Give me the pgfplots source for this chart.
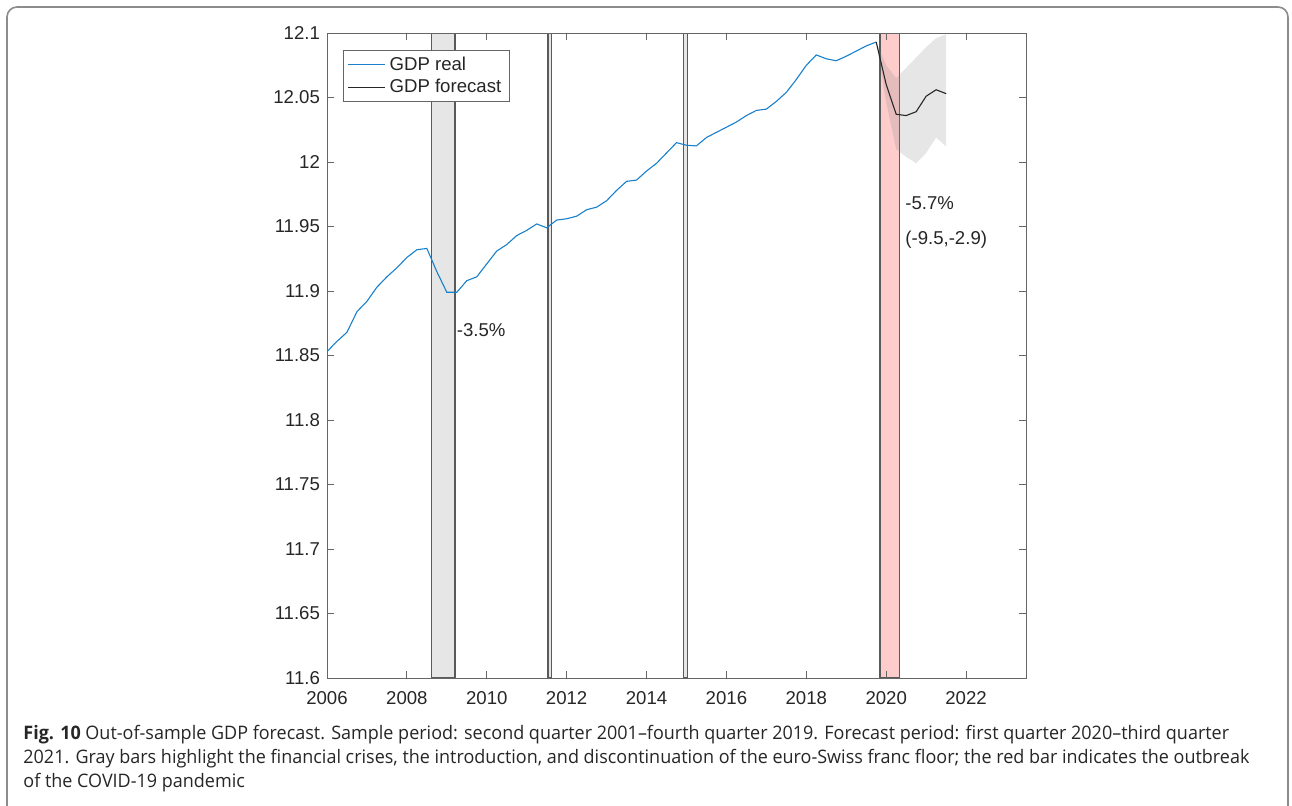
\documentclass[border=0pt]{standalone}
\usepackage{fontspec}
\setmainfont{Liberation Sans}
\newfontfamily\capfont[FakeStretch=0.967]{Open Sans}
\usepackage{pgfplots}
\pgfplotsset{compat=1.18}

\definecolor{mblue}{rgb}{0.1,0.5,0.8}
\definecolor{txt}{HTML}{262626}
\definecolor{edge}{HTML}{5A5A5A}
\definecolor{barfill}{HTML}{E6E6E6}
\definecolor{redfill}{HTML}{FFCCCC}

\pgfplotstableread{
x y
2006.00 11.853
2006.25 11.861
2006.50 11.868
2006.75 11.884
2007.00 11.892
2007.25 11.903
2007.50 11.911
2007.75 11.918
2008.00 11.926
2008.25 11.932
2008.50 11.933
2008.75 11.915
2009.00 11.899
2009.25 11.899
2009.50 11.908
2009.75 11.911
2010.00 11.921
2010.25 11.931
2010.50 11.936
2010.75 11.943
2011.00 11.947
2011.25 11.952
2011.50 11.949
2011.75 11.955
2012.00 11.956
2012.25 11.958
2012.50 11.963
2012.75 11.965
2013.00 11.970
2013.25 11.978
2013.50 11.985
2013.75 11.986
2014.00 11.993
2014.25 11.999
2014.50 12.007
2014.75 12.015
2015.00 12.013
2015.25 12.0125
2015.50 12.019
2015.75 12.023
2016.00 12.027
2016.25 12.031
2016.50 12.036
2016.75 12.040
2017.00 12.041
2017.25 12.047
2017.50 12.054
2017.75 12.064
2018.00 12.075
2018.25 12.083
2018.50 12.080
2018.75 12.0785
2019.00 12.082
2019.25 12.086
2019.50 12.090
2019.75 12.093
}\real

\pgfplotstableread{
x y
2019.75 12.093
2020.00 12.060
2020.25 12.037
2020.50 12.036
2020.75 12.039
2021.00 12.051
2021.25 12.056
2021.50 12.053
}\fcst

\pgfplotstableread{
x y
2019.75 12.093
2020.00 12.075
2020.25 12.065
2020.50 12.073
2020.75 12.081
2021.00 12.089
2021.25 12.096
2021.50 12.099
2021.50 12.012
2021.25 12.019
2021.00 12.007
2020.75 11.999
2020.50 12.004
2020.25 12.010
2020.00 12.046
2019.75 12.093
}\band

\begin{document}
\begin{tikzpicture}
\useasboundingbox (0,0) rectangle (646pt,402.5pt);
\draw[black!45, line width=0.8pt, rounded corners=5pt] (3.5pt,-20pt) rectangle (644pt,399pt);
\begin{axis}[
  at={(163.5pt,63.5pt)}, anchor=south west,
  scale only axis, width=349.5pt, height=322.5pt,
  xmin=2006, xmax=2023.5, ymin=11.6, ymax=12.1,
  xtick={2006,2008,...,2022},
  ytick={11.6,11.65,11.7,11.75,11.8,11.85,11.9,11.95,12,12.05,12.1},
  tick align=inside, major tick length=3.5pt,
  axis line style={black!60, line width=0.5pt},
  tick style={black!60, line width=0.5pt},
  ticklabel style={font=\fontsize{9.3}{11}\selectfont, text=txt},
  xticklabel style={yshift=-3pt},
  /pgf/number format/assume math mode=true,
  /pgf/number format/1000 sep={},
  yticklabel style={/pgf/number format/fixed, /pgf/number format/precision=2},
  axis on top,
  legend cell align=left,
  legend image code/.code={\draw[#1] (0pt,0pt) -- (18.5pt,0pt);},
  legend style={at={(0.0229,0.9736)}, anchor=north west,
    font=\fontsize{9.3}{11}\selectfont, text=txt,
    draw=black!60, line width=0.5pt, fill=white,
    inner xsep=2pt, inner ysep=1pt, row sep=-1pt},
]
% crisis / floor bars
\addplot[fill=barfill, draw=edge, line width=0.7pt, forget plot] coordinates {(2008.62,11.6) (2009.2,11.6) (2009.2,12.1) (2008.62,12.1)} -- cycle;
\addplot[fill=barfill, draw=edge, line width=0.7pt, forget plot] coordinates {(2011.53,11.6) (2011.62,11.6) (2011.62,12.1) (2011.53,12.1)} -- cycle;
\addplot[fill=barfill, draw=edge, line width=0.7pt, forget plot] coordinates {(2014.93,11.6) (2015.02,11.6) (2015.02,12.1) (2014.93,12.1)} -- cycle;
\addplot[fill=redfill, draw=edge, line width=0.7pt, forget plot] coordinates {(2019.84,11.6) (2020.34,11.6) (2020.34,12.1) (2019.84,12.1)} -- cycle;
% forecast band
\addplot[fill=gray, fill opacity=0.2, draw=none, forget plot] table {\band} -- cycle;
% lines
\addplot[mblue, line width=0.55pt] table {\real};
\addlegendentry{GDP real}
\addplot[black!85, line width=0.55pt] table {\fcst};
\addlegendentry{GDP forecast}
\node[anchor=west, inner sep=0pt, font=\fontsize{9.3}{11}\selectfont, text=txt] at (axis cs:2009.24,11.870) {-3.5\%};
\node[anchor=west, inner sep=0pt, font=\fontsize{9.3}{11}\selectfont, text=txt] at (axis cs:2020.47,11.968) {-5.7\%};
\node[anchor=west, inner sep=0pt, font=\fontsize{9.3}{11}\selectfont, text=txt] at (axis cs:2020.47,11.9395) {(-9.5,-2.9)};
\end{axis}
\begin{scope}[every node/.style={anchor=base west, inner sep=0pt, text=black!85, font=\capfont\fontsize{9.3}{11}\selectfont}]
\node at (11.5pt,33pt) {\textbf{Fig. 10} Out-of-sample GDP forecast. Sample period: second quarter 2001–fourth quarter 2019. Forecast period: first quarter 2020–third quarter};
\node at (11.5pt,21pt) {2021. Gray bars highlight the financial crises, the introduction, and discontinuation of the euro-Swiss franc floor; the red bar indicates the outbreak};
\node at (11.5pt,9pt) {of the COVID-19 pandemic};
\end{scope}
\end{tikzpicture}
\end{document}
